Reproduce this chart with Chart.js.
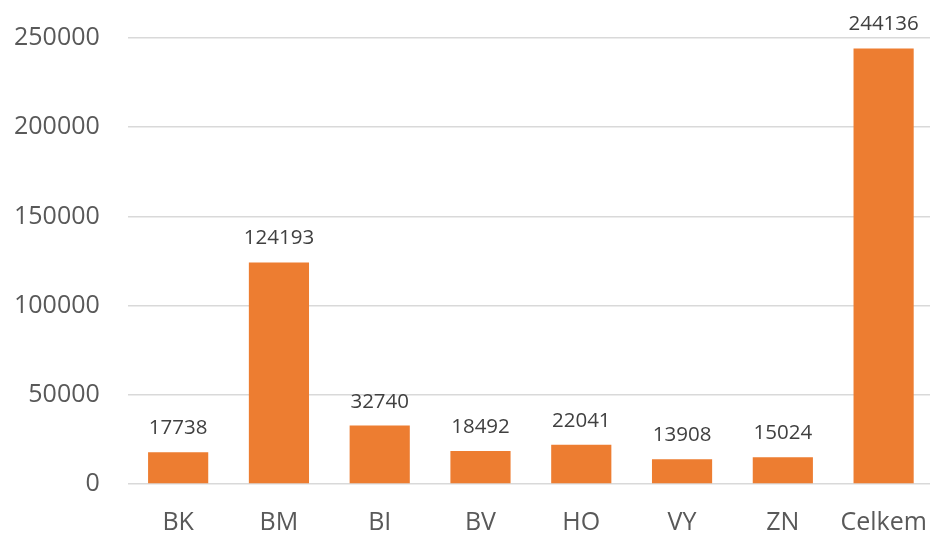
<!DOCTYPE html>
<html>
<head>
<meta charset="utf-8">
<script src="https://cdn.jsdelivr.net/npm/chart.js@4/dist/chart.umd.min.js"></script>
<style>
html,body{margin:0;padding:0;background:#fff;overflow:hidden;width:930px;height:533px;}
#wrap{position:absolute;left:0;top:0;width:934px;height:535px;}
</style>
</head>
<body>
<div id="wrap"><canvas id="c" width="934" height="535"></canvas></div>
<script>
const categories = ["BK", "BM", "BI", "BV", "HO", "VY", "ZN", "Celkem"];
const values = [17738, 124193, 32740, 18492, 22041, 13908, 15024, 244136];
const yMax = 250000;
const yStep = 50000;

const labelPlugin = {
  id: 'valueLabels',
  afterDatasetsDraw(chart) {
    const ctx = chart.ctx;
    const meta = chart.getDatasetMeta(0);
    ctx.save();
    ctx.font = '20.5px "Open Sans"';
    ctx.fillStyle = '#404040';
    ctx.textAlign = 'center';
    ctx.textBaseline = 'alphabetic';
    meta.data.forEach((bar, i) => {
      ctx.fillText(String(values[i]), bar.x, bar.y - 18);
    });
    ctx.restore();
  }
};

new Chart(document.getElementById('c'), {
  type: 'bar',
  data: {
    labels: categories,
    datasets: [{
      data: values,
      backgroundColor: '#ED7D31',
      borderWidth: 0,
      categoryPercentage: 1,
      barPercentage: 0.597
    }]
  },
  options: {
    responsive: false,
    animation: false,
    events: [],
    layout: { padding: { top: 38, left: 14, right: 0, bottom: 0 } },
    plugins: { legend: { display: false }, tooltip: { enabled: false } },
    scales: {
      x: {
        grid: { display: false, drawTicks: true, tickLength: 26 },
        border: { display: false },
        ticks: { color: '#595959', font: { family: 'Open Sans', size: 25, lineHeight: 1 }, padding: 0 }
      },
      y: {
        min: 0, max: yMax,
        grid: { color: '#D9D9D9', lineWidth: 1.5, drawTicks: true, tickLength: 28, tickColor: 'rgba(0,0,0,0)' },
        border: { display: false },
        ticks: { stepSize: yStep, color: '#595959', font: { family: 'Open Sans', size: 25 }, padding: 0,
                 callback: (v) => String(v) }
      }
    }
  },
  plugins: [labelPlugin]
});
</script>
</body>
</html>
